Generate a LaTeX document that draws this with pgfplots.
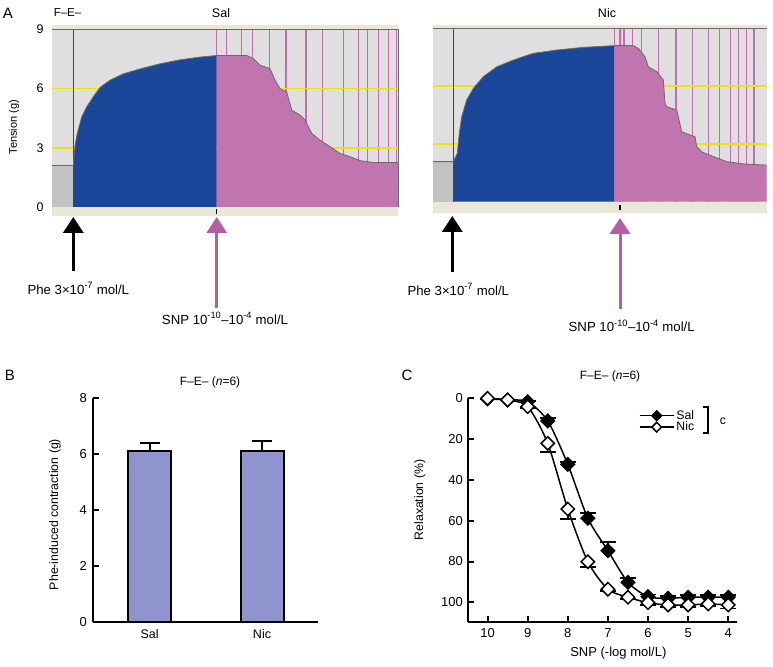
\documentclass[border=0pt]{standalone}
\usepackage{fontspec}
\setmainfont{Liberation Sans}
\usepackage{pgfplots}
\pgfplotsset{compat=1.18}
\usetikzlibrary{arrows.meta}
\definecolor{tblue}{HTML}{1A4799}
\definecolor{tpink}{HTML}{C175AE}
\definecolor{vpink}{HTML}{C46CB2}
\definecolor{apink}{HTML}{B45DA5}
\definecolor{bggray}{HTML}{DFDFDF}
\definecolor{basegray}{HTML}{C2C2C2}
\definecolor{beige}{HTML}{EBE7D6}
\definecolor{tyellow}{HTML}{F0E400}
\definecolor{trace}{HTML}{6A6A6A}
\definecolor{barfill}{HTML}{9094CE}
\newcommand\fs[1]{\fontsize{#1bp}{#1bp}\selectfont}

\begin{document}
\begin{tikzpicture}[x=1bp,y=1bp]
\useasboundingbox (0,0) rectangle (773,667);
\pgfplotsset{
  traceax/.style={scale only axis, clip=false, anchor=south west,
    axis line style={draw=none}, xtick=\empty, major tick length=0pt,
    ymin=0, ymax=9,
    /pgf/number format/assume math mode=true,
    yticklabel style={font=\fs{12.5}, xshift=-5bp}},
  panelax/.style={scale only axis, anchor=south west,
    axis line style={line width=2bp}, tick style={line width=2bp,black},
    tick align=inside, major tick length=6bp,
    /pgf/number format/assume math mode=true,
    ticklabel style={font=\fs{13}}, label style={font=\fs{12.3}}},
}

% ---------------- Panel A, left (Sal) ----------------
\begin{axis}[traceax, at={(52bp,460bp)}, width=346bp, height=177.5bp, xmin=52, xmax=398,
  ytick={0,3,6,9}, ylabel={Tension (g)},
  ylabel style={font=\fs{11}, at={(axis description cs:-0.11,0.45)}, anchor=center}]
\fill[beige] (52,-0.46) rectangle (398,0);
\fill[beige] (52,9) rectangle (398,9.22);
\fill[bggray] (52,0) rectangle (398,9);
\addplot[vpink, line width=1.5bp, ycomb] coordinates {(216.7,9)(226.7,9)(241.7,9)(252.3,9)(269.3,9)(286,9)(306,9)(322.7,9)(343.3,9)(358.3,9)(367.3,9)(378.3,9)(388.3,9)(396.7,9)};
\addplot[tyellow, line width=1.5bp] coordinates {(52,6)(398,6)};
\addplot[tyellow, line width=1.5bp] coordinates {(52,3)(398,3)};
\addplot[tblue, line width=1.5bp, ycomb] coordinates {(73.3,9)};
\addplot[draw=none, fill=basegray] coordinates {(52,2.1)(73.3,2.1)} \closedcycle;
\addplot[draw=none, fill=tblue] coordinates {(73.3,2.1)(75,3.1)(77.3,3.73)(81.7,4.57)(86.7,5.08)(93.3,5.59)(100,6.06)(110,6.43)(123.3,6.75)(140,7.0)(160,7.26)(180,7.46)(200,7.6)(216.7,7.68)} \closedcycle;
\addplot[draw=none, fill=tpink] coordinates {(216.7,7.68)(246.7,7.68)(253.3,7.53)(260,7.19)(270,7.02)(275,6.43)(280,6.0)(286.7,5.83)(291.7,4.91)(300,4.66)(305,4.41)(311.7,3.73)(320,3.39)(330,3.06)(340,2.72)(350,2.55)(360,2.35)(373,2.26)(398,2.26)} \closedcycle;
\addplot[trace, line width=0.8bp] coordinates {(52,2.1)(73.3,2.1)(75,3.1)(77.3,3.73)(81.7,4.57)(86.7,5.08)(93.3,5.59)(100,6.06)(110,6.43)(123.3,6.75)(140,7.0)(160,7.26)(180,7.46)(200,7.6)(216.7,7.68)(246.7,7.68)(253.3,7.53)(260,7.19)(270,7.02)(275,6.43)(280,6.0)(286.7,5.83)(291.7,4.91)(300,4.66)(305,4.41)(311.7,3.73)(320,3.39)(330,3.06)(340,2.72)(350,2.55)(360,2.35)(373,2.26)(398,2.26)};
\draw[trace, line width=0.8bp] (52,9) -- (398,9) -- (398,0);
\draw[black, line width=1.3bp] (216.7,-0.12) -- (216.7,-0.36);
\end{axis}

% ---------------- Panel A, right (Nic) ----------------
\begin{axis}[traceax, at={(433bp,465.3bp)}, width=333.7bp, height=173.4bp, xmin=433, xmax=766.7,
  ytick=\empty]
\fill[beige] (433,-0.6) rectangle (766.7,0);
\fill[beige] (433,9) rectangle (766.7,9.17);
\fill[bggray] (433,0) rectangle (766.7,9);
\addplot[vpink, line width=1.5bp, ycomb] coordinates {(614.3,9)(620,9)(624,9)(632.3,9)(641.7,9)(658.3,9)(676,9)(692.7,9)(708.3,9)(719.3,9)(730.7,9)(738.3,9)(746.7,9)(754,9)};
\addplot[tyellow, line width=1.5bp, ycomb] coordinates {(621.5,9)};
\addplot[tyellow, line width=1.5bp] coordinates {(433,6)(766.7,6)};
\addplot[tyellow, line width=1.5bp] coordinates {(433,3)(766.7,3)};
\addplot[tblue, line width=1.5bp, ycomb] coordinates {(453.3,9)};
\addplot[draw=none, fill=basegray] coordinates {(433,2.08)(453.3,2.08)} \closedcycle;
\addplot[draw=none, fill=tblue] coordinates {(453.3,2.08)(457.3,2.51)(459.3,3.55)(461.7,4.41)(466.7,5.28)(473.3,5.88)(483.3,6.49)(496.7,7.0)(513.3,7.35)(533.3,7.7)(556.7,7.87)(583.3,8.01)(614.3,8.1)} \closedcycle;
\addplot[draw=none, fill=tpink] coordinates {(614.3,8.1)(633.3,8.1)(638.3,7.96)(645,7.52)(648.3,7.0)(656.7,6.75)(663.3,6.32)(665,5.1)(666.7,4.93)(676.7,4.76)(681.7,3.63)(690,3.46)(695,3.37)(696.7,2.85)(701.7,2.59)(713.3,2.34)(726.7,2.08)(743.3,1.96)(766.7,1.9)} \closedcycle;
\addplot[trace, line width=0.8bp] coordinates {(433,2.08)(453.3,2.08)(457.3,2.51)(459.3,3.55)(461.7,4.41)(466.7,5.28)(473.3,5.88)(483.3,6.49)(496.7,7.0)(513.3,7.35)(533.3,7.7)(556.7,7.87)(583.3,8.01)(614.3,8.1)(633.3,8.1)(638.3,7.96)(645,7.52)(648.3,7.0)(656.7,6.75)(663.3,6.32)(665,5.1)(666.7,4.93)(676.7,4.76)(681.7,3.63)(690,3.46)(695,3.37)(696.7,2.85)(701.7,2.59)(713.3,2.34)(726.7,2.08)(743.3,1.96)(766.7,1.9)};
\draw[trace, line width=0.8bp] (433,9) -- (766.7,9);
\draw[black, line width=1.3bp] (620,-0.15) -- (620,-0.45);
\end{axis}

% annotations for panel A
\node[font=\fs{15}] at (8,667-13) {A};
\node[font=\fs{11.5}] at (67.5,667-13) {F–E–};
\node[font=\fs{12.5}] at (221,667-13) {Sal};
\node[font=\fs{12.5}] at (607,667-13) {Nic};
\draw[black, line width=3.5bp, -{Triangle[width=20bp,length=16bp]}] (73.3,667-271) -- (73.3,667-217);
\draw[apink, line width=3bp, -{Triangle[width=20bp,length=16bp]}] (216.7,667-308) -- (216.7,667-217);
\draw[black, line width=3.5bp, -{Triangle[width=20bp,length=16bp]}] (452.3,667-272) -- (452.3,667-216);
\draw[apink, line width=3bp, -{Triangle[width=20bp,length=16bp]}] (620,667-309) -- (620,667-218);
\node[font=\fs{13.2}] at (78.3,667-288.3) {Phe 3×10\textsuperscript{-7} mol/L};
\node[font=\fs{13.2}] at (225,667-318.3) {SNP 10\textsuperscript{-10}–10\textsuperscript{-4} mol/L};
\node[font=\fs{13.2}] at (458.3,667-289.3) {Phe 3×10\textsuperscript{-7} mol/L};
\node[font=\fs{13.2}] at (631.7,667-326) {SNP 10\textsuperscript{-10}–10\textsuperscript{-4} mol/L};

% ---------------- Panel B ----------------
\begin{axis}[panelax, at={(93.3bp,45bp)}, width=225bp, height=224bp,
  xmin=0.498, xmax=2.501, ymin=0, ymax=8,
  axis x line*=bottom, axis y line*=left,
  ytick={0,2,4,6,8}, xtick={1,2}, xticklabels={Sal,Nic},
  x tick style={draw=none},
  yticklabel style={xshift=-3bp},
  xticklabel style={yshift=-4bp, font=\fs{12.5}},
  ylabel={Phe-induced contraction (g)},
  ylabel style={at={(axis description cs:-0.17,0.48)}, anchor=center}]
\addplot[ybar, bar width=43bp, fill=barfill, draw=black, line width=2bp,
  error bars/.cd, y dir=plus, y explicit,
  error bar style={line width=2bp, black},
  error mark options={rotate=90, mark size=10bp, line width=2bp, black}]
  coordinates {(1,6.1) +- (0,0.3) (2,6.1) +- (0,0.38)};
\end{axis}
\node[font=\fs{15}] at (10,667-375) {B};
\node[font=\fs{12}] at (210,667-382) {F–E– (\textit{n}=6)};

% ---------------- Panel C ----------------
\begin{axis}[panelax, at={(468.3bp,45.3bp)}, width=268.4bp, height=223.4bp,
  x dir=reverse, y dir=reverse,
  xmin=3.79, xmax=10.48, ymin=0, ymax=109.5,
  axis x line*=bottom, axis y line*=left,
  xtick={4,5,6,7,8,9,10}, ytick={0,20,40,60,80,100},
  yticklabel style={xshift=-2bp},
  xticklabel style={yshift=-3bp},
  xlabel={SNP (-log mol/L)}, ylabel={Relaxation (\%)},
  xlabel style={at={(axis description cs:0.559,-0.141)}, anchor=center, font=\fs{13}},
  ylabel style={at={(axis description cs:-0.18,0.545)}, anchor=center},
  legend style={at={(axis description cs:0.635,0.955)}, anchor=north west, draw=none, fill=none,
    font=\fs{12.3}, row sep=-3bp, inner sep=0pt},
  legend cell align=left,
  legend image code/.code={\draw[mark repeat=2,mark phase=2,#1,mark size=3.4bp] plot coordinates {(0bp,0bp) (17bp,0bp) (34bp,0bp)};}]
\addplot[black, line width=1.5bp, smooth, tension=0.45, mark=square*, mark size=4.7bp,
  mark options={rotate=45, fill=black, solid},
  error bars/.cd, y dir=minus, y explicit,
  error bar style={line width=1.5bp, black},
  error mark options={rotate=90, mark size=8bp, line width=1.8bp, black}]
  coordinates {(10,0.3) +- (0,0) (9.5,0.8) +- (0,0) (9,1.7) +- (0,0.5) (8.5,11.1) +- (0,1.5)
    (8,32.4) +- (0,1) (7.5,58.8) +- (0,2.4) (7,74.7) +- (0,4.4) (6.5,90.2) +- (0,2)
    (6,97.2) +- (0,1) (5.5,98) +- (0,1) (5,97.5) +- (0,1) (4.5,97.5) +- (0,1) (4,97.5) +- (0,1)};
\addlegendentry{Sal}
\addplot[black, line width=1.5bp, smooth, tension=0.45, mark=square*, mark size=4.7bp,
  mark options={rotate=45, fill=white, solid},
  error bars/.cd, y dir=plus, y explicit,
  error bar style={line width=1.5bp, black},
  error mark options={rotate=90, mark size=8bp, line width=1.8bp, black}]
  coordinates {(10,0) +- (0,0) (9.5,0.8) +- (0,0) (9,4.1) +- (0,0.5) (8.5,22.1) +- (0,4.1)
    (8,54.3) +- (0,4.9) (7.5,80.1) +- (0,2.7) (7,93.6) +- (0,1) (6.5,97.5) +- (0,1)
    (6,100.2) +- (0,1) (5.5,101.3) +- (0,1) (5,101.3) +- (0,1) (4.5,100.8) +- (0,1) (4,101.3) +- (0,1.7)};
\addlegendentry{Nic}
\end{axis}
\node[font=\fs{15}] at (407,667-375) {C};
\node[font=\fs{12}] at (610,667-376) {F–E– (\textit{n}=6)};
\draw[black, line width=1.5bp] (703,667-407) -- (708,667-407) -- (708,667-433) -- (703,667-433);
\node[font=\fs{12.3}] at (723,667-421) {c};
\end{tikzpicture}
\end{document}
